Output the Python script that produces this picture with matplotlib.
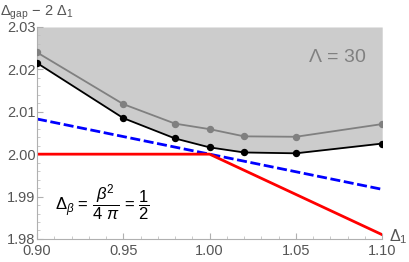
import numpy as np
import matplotlib
matplotlib.use("Agg")
from matplotlib import pyplot as plt
from matplotlib.ticker import MultipleLocator

plt.rcParams["font.family"] = ["Liberation Sans", "DejaVu Sans"]
plt.rcParams["mathtext.fontset"] = "custom"
plt.rcParams["mathtext.rm"] = "Liberation Sans"
plt.rcParams["mathtext.it"] = "Liberation Sans:italic"

delta1 = [0.90, 0.95, 0.98, 1.00, 1.02, 1.05, 1.10]
bound_black = [2.0215, 2.0085, 2.0037, 2.0016, 2.0004, 2.0002, 2.0025]
bound_grey = [2.0240, 2.0118, 2.0072, 2.0059, 2.0042, 2.0041, 2.0071]

blue_x = [0.90, 1.10]
blue_y = [2.0083, 1.9917]

red_x = [0.90, 1.00, 1.10]
red_y = [2.0000, 2.0000, 1.9810]

fig = plt.figure(figsize=(4.09, 2.62), dpi=100)
ax = fig.add_axes([0.0905, 0.088, 0.844, 0.809])

# shaded excluded region above the black bound
ax.fill_between(delta1, bound_black, 2.03, color="#cccccc", lw=0, zorder=1)

ax.plot(delta1, bound_grey, color="#808080", lw=1.3, marker="o", ms=4.3, zorder=3)
ax.plot(delta1, bound_black, color="black", lw=1.3, marker="o", ms=4.3, zorder=4)
ax.plot(blue_x, blue_y, color="#0000ff", lw=2, ls=(0, (3.6, 1.3)), zorder=2)
ax.plot(red_x, red_y, color="#ff0000", lw=2, zorder=2)

ax.set_xlim(0.90, 1.10)
ax.set_ylim(1.98, 2.03)
ax.set_xticks([0.90, 0.95, 1.00, 1.05, 1.10])
ax.set_yticks([1.98, 1.99, 2.00, 2.01, 2.02, 2.03])
ax.set_xticklabels(["0.90", "0.95", "1.00", "1.05", "1.10"])
ax.set_yticklabels(["1.98", "1.99", "2.00", "2.01", "2.02", "2.03"])
ax.xaxis.set_minor_locator(MultipleLocator(0.01))
ax.yaxis.set_minor_locator(MultipleLocator(0.002))

for s in ["top", "right"]:
    ax.spines[s].set_visible(False)
for s in ["left", "bottom"]:
    ax.spines[s].set_color("#b0b0b0")
    ax.spines[s].set_linewidth(0.8)
ax.tick_params(which="major", direction="in", length=4, width=0.8,
               color="#b0b0b0", labelcolor="#555555", labelsize=10.5, pad=1)
ax.tick_params(axis="x", which="major", pad=4)
ax.tick_params(axis="y", which="major", pad=1)
ax.tick_params(which="minor", direction="in", length=2, width=0.6, color="#c0c0c0")
# lift the lowest y label a little so it clears the first x label
ax.get_yticklabels()[0].set_verticalalignment("center_baseline")

ax.text(1.0907, 2.0229, r"$\Lambda$ = 30", color="#808080", fontsize=14,
        ha="right", va="center")
ax.text(0.9105, 1.9885,
        r"$\Delta_\beta$ = $\dfrac{\beta^2}{4\ \pi}$ = $\dfrac{1}{2}$",
        color="black", fontsize=12, ha="left", va="center")

fig.text(0.0, 0.985, r"$\Delta_{\mathrm{gap}}$ $-$ 2 $\Delta_1$", color="#555555",
         fontsize=10.5, ha="left", va="top")
fig.text(0.952, 0.062, r"$\Delta_1$", color="#555555", fontsize=11.5,
         ha="left", va="bottom")

fig.savefig("out.png", dpi=100)
